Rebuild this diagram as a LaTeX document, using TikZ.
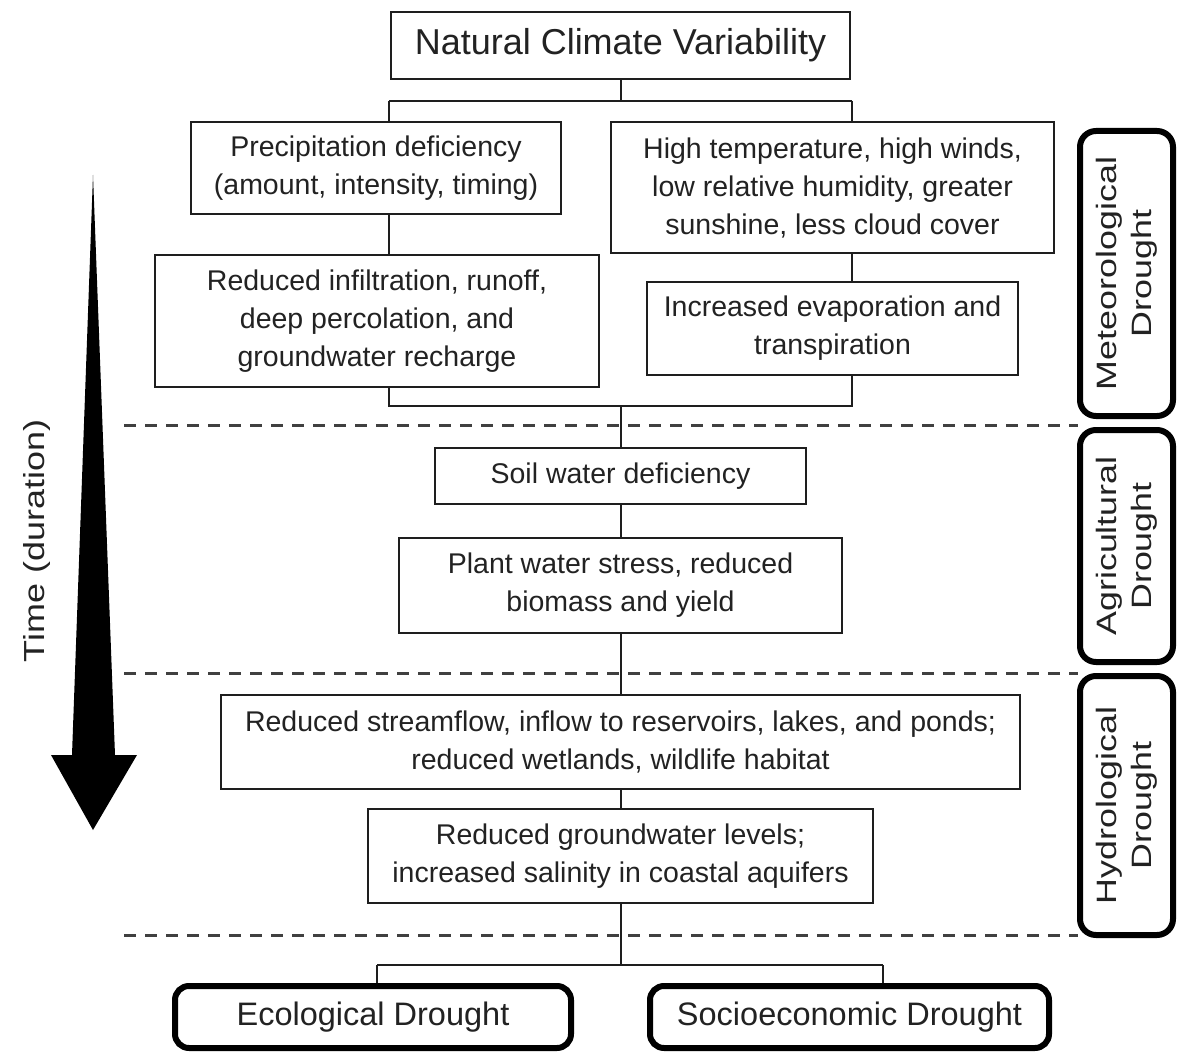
\documentclass[tikz,border=0pt]{standalone}
\usepackage{fontspec}
\setmainfont{Liberation Sans}
\usepackage{graphicx}
\definecolor{txt}{HTML}{222222}
\definecolor{lin}{HTML}{1E1E1E}
\begin{document}
\begin{tikzpicture}[x=1pt,y=-1pt,
  box/.style={draw=lin, line width=2.3pt, fill=white, inner sep=0pt, align=center, text=txt, font=\fontsize{28.5}{38}\selectfont},
  bbox/.style={draw=black, line width=6pt, rounded corners=14pt, fill=white, inner sep=0pt, align=center, text=txt, font=\fontsize{32.5}{38}\selectfont},
  side/.style={draw=black, line width=6pt, rounded corners=16pt, fill=white, inner sep=0pt, minimum width=93pt},
  sidetxt/.style={rotate=90, inner sep=0pt, text=txt, font=\fontsize{28}{35}\selectfont},
  conn/.style={line width=2pt, draw=lin},
  sep/.style={line width=3pt, dash pattern=on 12pt off 9pt, draw=black!75},
]
\useasboundingbox (0,0) rectangle (1179,1054);

% dashed separators
\coordinate (d1a) at (124,425); \coordinate (d1b) at (1078,425);
\coordinate (d2a) at (124,673); \coordinate (d2b) at (1078,673);
\coordinate (d3a) at (124,935); \coordinate (d3b) at (1078,935);
\draw[sep] (d1a) -- (d1b);
\draw[sep] (d2a) -- (d2b);
\draw[sep] (d3a) -- (d3b);

% boxes
\node[box, minimum width=459pt, minimum height=67pt, font=\fontsize{36}{42}\selectfont] (ncv) at (620.5,45.5) {Natural Climate Variability};
\node[box, minimum width=370pt, minimum height=92pt] (p) at (376,168) {Precipitation deficiency\\(amount, intensity, timing)};
\node[box, minimum width=443pt, minimum height=131pt] (h) at (832.5,187.5) {High temperature, high winds,\\low relative humidity, greater\\sunshine, less cloud cover};
\node[box, minimum width=444pt, minimum height=132pt] (r) at (377,321) {Reduced infiltration, runoff,\\deep percolation, and\\groundwater recharge};
\node[box, minimum width=371pt, minimum height=93pt] (i) at (832.5,328.5) {Increased evaporation and\\transpiration};
\node[box, minimum width=371pt, minimum height=56pt] (soil) at (620.5,476) {Soil water deficiency};
\node[box, minimum width=443pt, minimum height=95pt] (plant) at (620.5,585.5) {Plant water stress, reduced\\biomass and yield};
\node[box, minimum width=799pt, minimum height=94pt] (stream) at (620.5,742) {Reduced streamflow, inflow to reservoirs, lakes, and ponds;\\reduced wetlands, wildlife habitat};
\node[box, minimum width=505pt, minimum height=94pt] (gw) at (620.5,856) {Reduced groundwater levels;\\increased salinity in coastal aquifers};
\node[bbox, minimum width=396pt, minimum height=62pt] (eco) at (373,1017) {Ecological Drought};
\node[bbox, minimum width=399pt, minimum height=62pt] (socio) at (849.5,1017) {Socioeconomic Drought};

% side boxes
\node[side, minimum height=285pt] (met) at (1126.5,273.5) {};
\node[side, minimum height=232pt] (agr) at (1126.5,546) {};
\node[side, minimum height=259pt] (hyd) at (1126.5,805.5) {};
\node[sidetxt] (metl) at (met.center) {\scalebox{1.28}[1]{\begin{tabular}{@{}c@{}}Meteorological\\Drought\end{tabular}}};
\node[sidetxt] (agrl) at (agr.center) {\scalebox{1.28}[1]{\begin{tabular}{@{}c@{}}Agricultural\\Drought\end{tabular}}};
\node[sidetxt] (hydl) at (hyd.center) {\scalebox{1.28}[1]{\begin{tabular}{@{}c@{}}Hydrological\\Drought\end{tabular}}};

% connectors
\coordinate (tj) at (620.5,101);
\coordinate (tl) at (389,101);
\coordinate (tr) at (852,101);
\draw[conn] (ncv.south) -- (tj);
\draw[conn] (tl) -- (tr);
\draw[conn] (tl) -- (tl |- p.north);
\draw[conn] (tr) -- (tr |- h.north);
\draw[conn] (tl |- p.south) -- (tl |- r.north);
\draw[conn] (tr |- h.south) -- (tr |- i.north);
\coordinate (mj) at (620.5,406);
\coordinate (ml) at (389,406);
\coordinate (mr) at (852,406);
\draw[conn] (tl |- r.south) -- (ml) -- (mr) -- (tr |- i.south);
\draw[conn] (mj) -- (soil.north);
\draw[conn] (soil.south) -- (plant.north);
\draw[conn] (plant.south) -- (stream.north);
\draw[conn] (stream.south) -- (gw.north);
\coordinate (bj) at (620.5,965);
\coordinate (bl) at (377,965);
\coordinate (br) at (883,965);
\draw[conn] (gw.south) -- (bj);
\draw[conn] (bl) -- (br);
\draw[conn] (bl) -- (bl |- eco.north);
\draw[conn] (br) -- (br |- socio.north);

% time arrow
\fill[black] (93,175) -- (115,755) -- (137,755) -- (93,830) -- (51,755) -- (72,755) -- cycle;
\node[rotate=90, inner sep=0pt, text=txt, font=\fontsize{29}{35}\selectfont] (time) at (37,541) {\scalebox{1.24}[1]{Time (duration)}};
\end{tikzpicture}
\end{document}
